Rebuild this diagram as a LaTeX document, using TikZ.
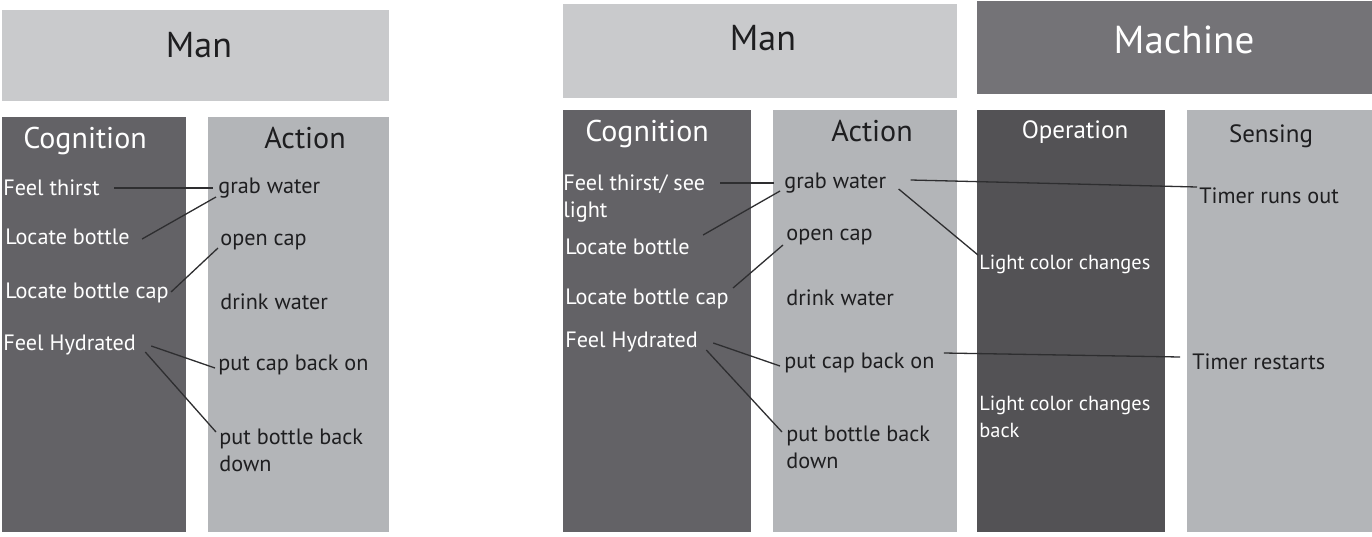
\documentclass[tikz,border=0pt]{standalone}
\usepackage{fontspec}
\setmainfont{PT Sans}
\definecolor{hdrlight}{HTML}{C9CACC}
\definecolor{collight}{HTML}{B3B5B8}
\definecolor{coldark}{HTML}{636266}
\definecolor{hdrdark}{HTML}{747377}
\definecolor{opdark}{HTML}{535255}
\definecolor{tdark}{HTML}{1E1E20}
\definecolor{lnc}{HTML}{2E2E30}
\begin{document}
\begin{tikzpicture}[x=0.5pt,y=-0.5pt,
  item/.style={inner sep=0pt, anchor=west, font=\fontsize{11.1}{13.5}\selectfont, align=left},
  itemw/.style={item, text=white},
  itemd/.style={item, text=tdark},
  itemm/.style={item, text=white, font=\fontsize{10.2}{13.5}\selectfont},
  bighead/.style={inner sep=0pt, anchor=mid, font=\fontsize{18}{20}\selectfont},
  colhead/.style={inner sep=0pt, anchor=mid, font=\fontsize{15}{17}\selectfont},
  smallhead/.style={inner sep=0pt, anchor=mid, font=\fontsize{12.5}{14}\selectfont},
  conn/.style={draw=lnc, line width=0.65pt}]
\useasboundingbox (0,0) rectangle (1372,536);
\fill[white] (0,0) rectangle (1372,536);
% ---- left panel boxes
\fill[hdrlight] (2,10) rectangle (389,101);
\fill[coldark] (2,117) rectangle (186,532);
\fill[collight] (208,117) rectangle (389,532);
% ---- right panel boxes
\fill[hdrlight] (563,4) rectangle (957,98);
\fill[coldark] (563,110) rectangle (751,532);
\fill[collight] (773,110) rectangle (957,532);
\fill[hdrdark] (977,1) rectangle (1372,94);
\fill[opdark] (977,110) rectangle (1165,532);
\fill[collight] (1187,110) rectangle (1372,532);
% ---- left headers
\node[bighead, text=tdark] (manL) at (199,52) {Man};
\node[colhead, text=white] (cogL) at (85,143) {Cognition};
\node[colhead, text=tdark] (actL) at (305,143) {Action};
% ---- left items
\node[itemw] (ft) at (3,188) {Feel thirst};
\node[itemw] (lb) at (5,237) {Locate bottle};
\node[itemw] (lbc) at (5,293) {Locate bottle cap};
\node[itemw] (fh) at (3,345) {Feel Hydrated};
\node[itemd] (gw) at (218,188) {grab water};
\node[itemd] (oc) at (220,242) {open cap};
\node[itemd] (dw) at (220,302) {drink water};
\node[itemd] (pcb) at (218,365) {put cap back on};
\node[itemd, anchor=north west] (pbb) at (219,429) {put bottle back\\down};
\draw[conn] ([shift={(14,0)}]ft.east) -- ([shift={(-5,0)}]gw.west);
\draw[conn] ([shift={(12,2)}]lb.east) -- ([shift={(-2,9)}]gw.west);
\draw[conn] ([shift={(2,-1)}]lbc.east) -- ([shift={(-2,6)}]oc.west);
\draw[conn] ([shift={(15,1)}]fh.east) -- ([shift={(-3,3)}]pcb.west);
\draw[conn] ([shift={(9,7)}]fh.east) -- ([shift={(-3,3)}]pbb.north west);
% ---- right headers
\node[bighead, text=tdark] (manR) at (763,45) {Man};
\node[bighead, text=white, font=\fontsize{19.5}{22}\selectfont] (mach) at (1184,48) {Machine};
\node[colhead, text=white] (cogR) at (647,136) {Cognition};
\node[colhead, text=tdark] (actR) at (872,136) {Action};
\node[smallhead, text=white] (opR) at (1075,133) {Operation};
\node[smallhead, text=tdark] (senR) at (1271,137) {Sensing};
% ---- right items
\node[itemw, anchor=north west] (ft2) at (563,174) {Feel thirst/ see\\light};
\node[itemw] (lb2) at (565,247) {Locate bottle};
\node[itemw] (lbc2) at (565,299) {Locate bottle cap};
\node[itemw] (fh2) at (565,342) {Feel Hydrated};
\node[itemd] (gw2) at (784,183) {grab water};
\node[itemd] (oc2) at (786,237) {open cap};
\node[itemd] (dw2) at (786,298) {drink water};
\node[itemd] (pcb2) at (784,363) {put cap back on};
\node[itemd, anchor=north west] (pbb2) at (786,426) {put bottle back\\down};
\node[itemm] (lcc) at (979,264) {Light color changes};
\node[itemm, anchor=north west] (lccb) at (979,396) {Light color changes\\back};
\node[itemd] (tro) at (1199,196) {Timer runs out};
\node[itemd] (trs) at (1192,362) {Timer restarts};
\draw[conn] ([shift={(15,9)}]ft2.north east) -- ([shift={(-10,0)}]gw2.west);
\draw[conn] ([shift={(13,-12)}]lb2.east) -- ([shift={(-4,8)}]gw2.west);
\draw[conn] ([shift={(4,-11)}]lbc2.east) -- ([shift={(-3,8)}]oc2.west);
\draw[conn] ([shift={(15,1)}]fh2.east) -- ([shift={(-4,3)}]pcb2.west);
\draw[conn] ([shift={(8,8)}]fh2.east) -- ([shift={(-4,6)}]pbb2.north west);
\draw[conn] ([shift={(24,-3)}]gw2.east) -- ([shift={(-2,-9)}]tro.west);
\draw[conn] ([shift={(12,6)}]gw2.east) -- ([shift={(-1,-9)}]lcc.west);
\draw[conn] ([shift={(9,-10)}]pcb2.east) -- ([shift={(-12,-5)}]trs.west);
\end{tikzpicture}
\end{document}
